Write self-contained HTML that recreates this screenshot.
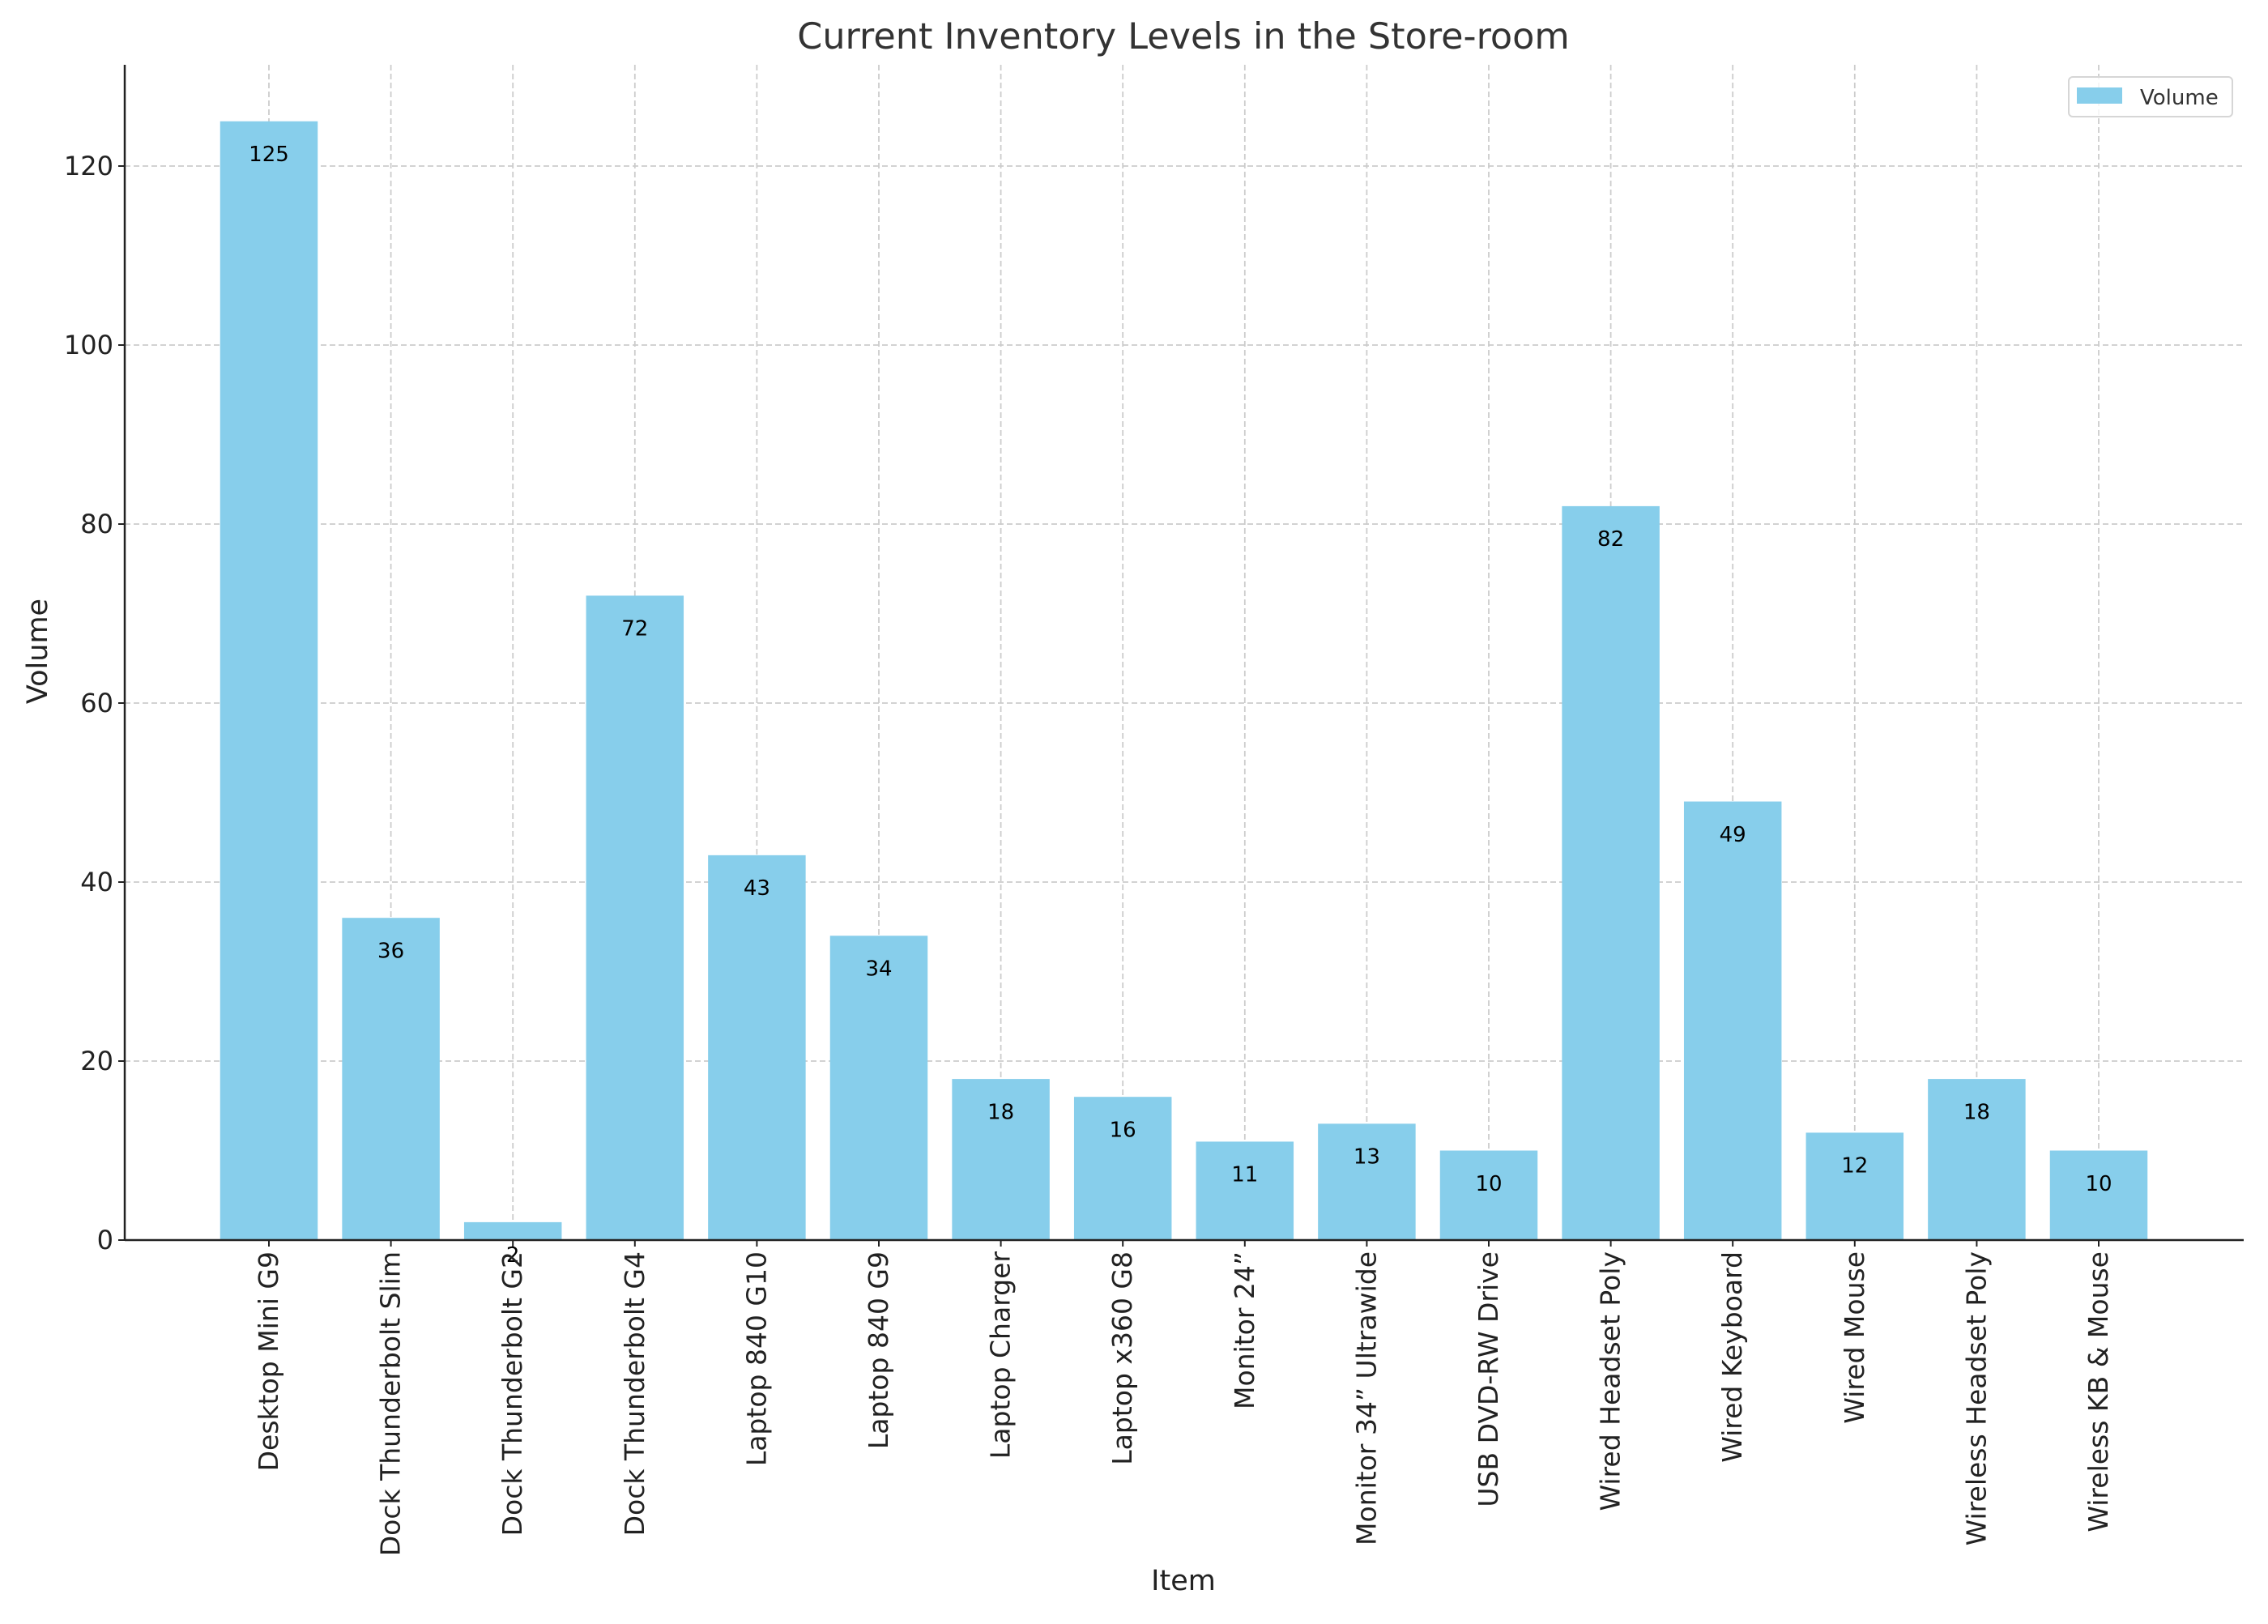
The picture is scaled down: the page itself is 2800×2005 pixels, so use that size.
<!DOCTYPE html>
<html><head><meta charset="utf-8"><style>
body{margin:0;background:#fff}
svg text{font-family:"DejaVu Sans","Liberation Sans",sans-serif}
</style></head><body>
<svg id="chart" width="2800" height="2000" xmlns="http://www.w3.org/2000/svg">
<rect width="2800" height="2000" fill="#fff"/>
<text x="1461" y="60" font-size="44.5" fill="#333" text-anchor="middle">Current Inventory Levels in the Store-room</text>
<g id="grid"></g><g id="bars"></g><g id="axes"></g>
<text x="1461" y="1963" font-size="35" fill="#222" text-anchor="middle">Item</text>
<text transform="translate(58,804) rotate(-90)" font-size="35" fill="#222" text-anchor="middle">Volume</text>
<g>
<rect x="2554" y="95" width="202" height="49" rx="5" fill="#fff" fill-opacity="0.8" stroke="#d6d6d6" stroke-width="2"/>
<rect x="2564" y="108" width="56" height="20" fill="#87CEEB"/>
<text x="2642" y="129" font-size="26" fill="#333">Volume</text>
</g>
</svg>
<script>
const categories=["Desktop Mini G9","Dock Thunderbolt Slim","Dock Thunderbolt G2","Dock Thunderbolt G4","Laptop 840 G10","Laptop 840 G9","Laptop Charger","Laptop x360 G8","Monitor 24\u201d","Monitor 34\u201d Ultrawide","USB DVD-RW Drive","Wired Headset Poly","Wired Keyboard","Wired Mouse","Wireless Headset Poly","Wireless KB & Mouse"];
const values=[125,36,2,72,43,34,18,16,11,13,10,82,49,12,18,10];
const yTicks=[0,20,40,60,80,100,120];
const NS="http://www.w3.org/2000/svg";
const L=154,R=2770,T=80,B=1531;
const x0=332,step=(2591-332)/15;
function xs(i){return x0+i*step;}
function ys(v){return B-v*(B-205)/120;}
function mk(tag,attrs,parent){const e=document.createElementNS(NS,tag);for(const k in attrs)e.setAttribute(k,attrs[k]);parent.appendChild(e);return e;}
const grid=document.getElementById('grid'),bars=document.getElementById('bars'),axes=document.getElementById('axes');
yTicks.forEach(t=>{
 const g=mk('line',{x1:L,x2:R,y1:ys(t),y2:ys(t),stroke:'#cccccc','stroke-width':1.8,'stroke-dasharray':'7,4'},grid);
 
 
 const tk=mk('line',{x1:L-8,x2:L,y1:ys(t),y2:ys(t),stroke:'#222','stroke-width':2},axes);
 
 
 const lb=mk('text',{x:L-14,y:ys(t)+11,'font-size':32,fill:'#222','text-anchor':'end'},axes);
 lb.textContent=t;
 
 
});
categories.forEach((c,i)=>{
 const g=mk('line',{x1:xs(i),x2:xs(i),y1:T,y2:B,stroke:'#cccccc','stroke-width':1.8,'stroke-dasharray':'7,4'},grid);
 
 
});
const bw=step*0.8;
categories.forEach((c,i)=>{
 const r=mk('rect',{x:xs(i)-bw/2,y:ys(values[i]),width:bw,height:B-ys(values[i]),fill:'#87CEEB'},bars);
 
 
 const v=mk('text',{x:xs(i),y:ys(values[i]-5)-6,'font-size':26,fill:'#000','text-anchor':'middle'},bars);
 v.textContent=values[i];
 
 
 const tk=mk('line',{x1:xs(i),x2:xs(i),y1:B,y2:B+8,stroke:'#222','stroke-width':2},axes);
 
 
 const lb=mk('text',{transform:`translate(${xs(i)+11},${B+14}) rotate(-90)`,'font-size':33,fill:'#222','text-anchor':'end'},axes);
 lb.textContent=c;
 
 
});
const ax1=mk('line',{x1:L,x2:L,y1:T,y2:B+1,stroke:'#222','stroke-width':2.5},axes);


const ax2=mk('line',{x1:L,x2:R,y1:B,y2:B,stroke:'#222','stroke-width':2.5},axes);


</script>
</body></html>
